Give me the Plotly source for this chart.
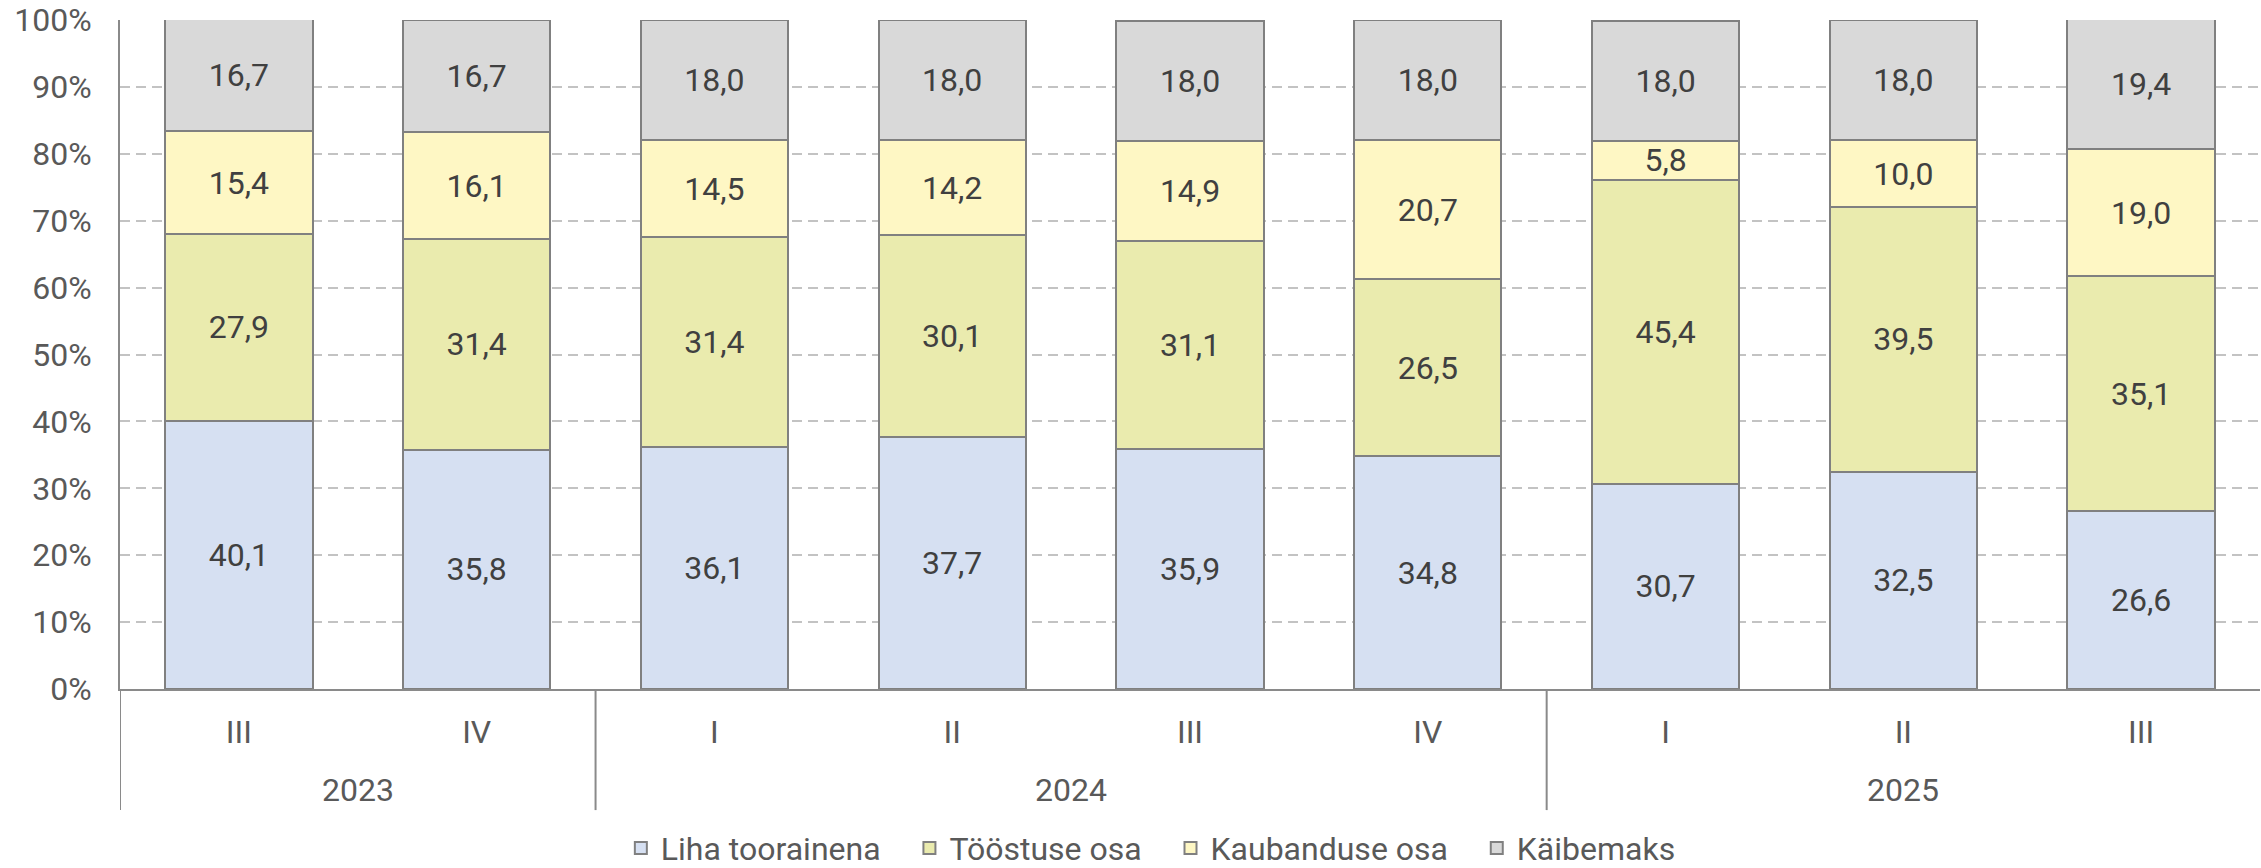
import plotly.graph_objects as go

# Quarter / year structure of the x axis
years = ["2023", "2023", "2024", "2024", "2024", "2024", "2025", "2025", "2025"]
quarters = ["III", "IV", "I", "II", "III", "IV", "I", "II", "III"]

# Price components, % of the retail price
liha = [40.1, 35.8, 36.1, 37.7, 35.9, 34.8, 30.7, 32.5, 26.6]
toostus = [27.9, 31.4, 31.4, 30.1, 31.1, 26.5, 45.4, 39.5, 35.1]
kaubandus = [15.4, 16.1, 14.5, 14.2, 14.9, 20.7, 5.8, 10.0, 19.0]
kaibemaks = [16.7, 16.7, 18.0, 18.0, 18.0, 18.0, 18.0, 18.0, 19.4]

series_names = ["Liha toorainena", "Tööstuse osa", "Kaubanduse osa", "Käibemaks"]
series_values = [liha, toostus, kaubandus, kaibemaks]
series_colors = ["#D6E0F2", "#EAEBAE", "#FEF7C4", "#D9D9D9"]

FONT = "Roboto"
FS = 32
LABEL_GREY = "#595959"
AXIS_GREY = "#8A8A8A"
NBSP = "\u00a0"

pos = list(range(len(quarters)))

fig = go.Figure()
for k, (name, vals, color) in enumerate(zip(series_names, series_values, series_colors)):
    # trailing non-breaking spaces widen the gap between legend entries
    legend_name = name + (NBSP * 3 if k < len(series_names) - 1 else "")
    fig.add_trace(go.Bar(
        name=legend_name,
        x=pos,
        y=vals,
        width=0.62,
        marker=dict(color=color, line=dict(color="#808080", width=2)),
        texttemplate="%{y:.1f}",
        textposition="inside",
        insidetextanchor="middle",
        textangle=0,
        textfont=dict(family=FONT, size=FS, color="#404040"),
        hoverinfo="skip",
    ))

# Year group labels, centred under each year's quarters
group_starts = [i for i in pos if i == 0 or years[i] != years[i - 1]]
group_ends = group_starts[1:] + [len(pos)]
annotations = []
for s, e in zip(group_starts, group_ends):
    annotations.append(dict(
        x=(s + e - 1) / 2, xref="x",
        y=0, yref="paper",
        yshift=-101, yanchor="middle", xanchor="center",
        text=years[s], showarrow=False,
        font=dict(family=FONT, size=FS, color=LABEL_GREY),
    ))

# Vertical dividers between year groups, running down past the labels
shapes = []
for s in group_starts:
    shapes.append(dict(
        type="line", xref="x", yref="paper",
        x0=s - 0.5, x1=s - 0.5, y0=0, y1=-0.181,
        line=dict(color=AXIS_GREY, width=2),
        layer="above",
    ))

fig.update_layout(
    barmode="stack",
    separators=", ",
    width=2261,
    height=868,
    margin=dict(l=120, r=1, t=20, b=179, autoexpand=False),
    plot_bgcolor="white",
    paper_bgcolor="white",
    font=dict(family=FONT, size=FS, color=LABEL_GREY),
    uniformtext=dict(minsize=FS, mode="show"),
    annotations=annotations,
    shapes=shapes,
    legend=dict(
        orientation="h",
        xref="container", yref="container",
        x=0.509, xanchor="center",
        y=0.0545, yanchor="top",
        font=dict(family=FONT, size=FS, color=LABEL_GREY),
        traceorder="normal",
        itemclick=False,
    ),
    showlegend=True,
)

fig.update_yaxes(
    range=[0, 100],
    tick0=0,
    dtick=10,
    ticksuffix="%",
    showgrid=True,
    gridcolor="#C3C3C3",
    gridwidth=2,
    griddash="10px,6px",
    showline=True,
    linecolor=AXIS_GREY,
    linewidth=2,
    zeroline=False,
    ticks="",
    ticklabelstandoff=20,
    tickfont=dict(family=FONT, size=FS, color=LABEL_GREY),
)

fig.update_xaxes(
    range=[-0.5, len(pos) - 0.5],
    tickmode="array",
    tickvals=pos,
    ticktext=quarters,
    showgrid=False,
    zeroline=False,
    showline=True,
    linecolor=AXIS_GREY,
    linewidth=2,
    ticks="",
    ticklabelstandoff=14,
    tickfont=dict(family=FONT, size=FS, color=LABEL_GREY),
)

fig.write_html("out.html")
